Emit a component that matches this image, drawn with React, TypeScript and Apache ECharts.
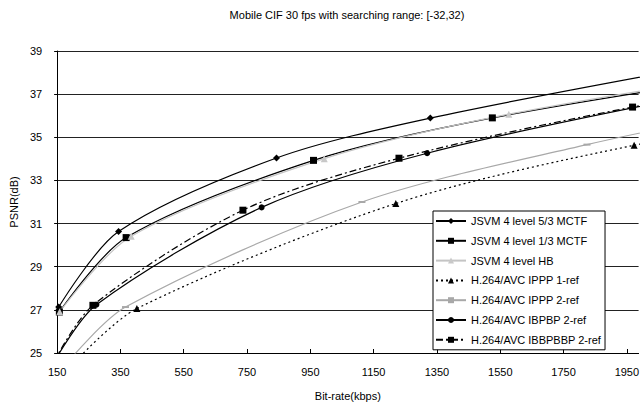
import React, { useEffect, useRef } from "react";
import * as echarts from "echarts";

const titleText = "Mobile CIF 30 fps with searching range: [-32,32)";
const xName = "Bit-rate(kbps)";
const yName = "PSNR(dB)";

const seriesNames = [
  "JSVM 4 level 5/3 MCTF",
  "JSVM 4 level 1/3 MCTF",
  "JSVM 4 level HB",
  "H.264/AVC IPPP 1-ref",
  "H.264/AVC IPPP 2-ref",
  "H.264/AVC IBPBP 2-ref",
  "H.264/AVC IBBPBBP 2-ref",
];

const mctf53Rate = [155, 344, 843, 1329, 2200];
const mctf53Psnr = [27.13, 30.63, 34.04, 35.89, 38.35];

const mctf13Rate = [157, 368, 960, 1525, 2400];
const mctf13Psnr = [26.9, 30.35, 33.93, 35.9, 38.0];

const hbRate = [158, 384, 994, 1577, 2400];
const hbPsnr = [26.91, 30.41, 34.01, 36.07, 38.1];

const ippp1Rate = [200, 402, 1220, 1973, 2600];
const ippp1Psnr = [24.5, 27.06, 31.93, 34.63, 36.1];

const ippp2Rate = [185, 366, 1113, 1824, 2400];
const ippp2Psnr = [24.6, 27.13, 32.0, 34.66, 36.4];

const ibpbpRate = [145, 274, 796, 1319, 2100];
const ibpbpPsnr = [24.7, 27.24, 31.75, 34.26, 36.75];

const bbpRate = [140, 263, 737, 1230, 1968, 2500];
const bbpPsnr = [24.6, 27.21, 31.62, 34.03, 36.4, 37.6];

const pair = (r: number[], p: number[]) => r.map((v, i) => [v, p[i]]);

const FONT = "'Liberation Sans', Arial, sans-serif";

export default function App() {
  const ref = useRef<HTMLDivElement>(null);
  useEffect(() => {
    if (!ref.current) return;
    const chart = echarts.init(ref.current, undefined, { renderer: "svg" });
    const base = {
      type: "line",
      smooth: 0.3,
      clip: true,
      showAllSymbol: true,
    };
    chart.setOption({
      animation: false,
      backgroundColor: "#fff",
      textStyle: { fontFamily: FONT },
      graphic: [
        {
          type: "text",
          x: 347,
          y: 15,
          style: {
            text: titleText,
            fill: "#000",
            font: `11px ${FONT}`,
            textAlign: "center",
            textVerticalAlign: "middle",
          },
        },
      ],
      grid: { left: 52, right: 0, top: 51, bottom: 53, containLabel: false },
      legend: {
        orient: "vertical",
        left: 433,
        top: 211,
        padding: [4, 4, 4, 2],
        itemWidth: 30,
        itemHeight: 7.5,
        itemGap: 7.8,
        backgroundColor: "#fff",
        borderColor: "#000",
        borderWidth: 1,
        borderRadius: 0,
        textStyle: { fontFamily: FONT, fontSize: 11, color: "#000", lineHeight: 12, height: 12 },
        data: seriesNames,
      },
      xAxis: {
        type: "value",
        min: 150,
        max: 1987,
        interval: 200,
        name: xName,
        nameLocation: "middle",
        nameGap: 37,
        nameTextStyle: { fontFamily: FONT, fontSize: 11, color: "#000" },
        axisLine: { show: true, lineStyle: { color: "#000", width: 1 } },
        axisTick: { show: true, inside: true, length: 4, lineStyle: { color: "#000" } },
        axisLabel: {
          fontFamily: FONT,
          fontSize: 11,
          color: "#000",
          margin: 13,
          showMaxLabel: false,
          formatter: (v: number) => String(v),
        },
        splitLine: { show: false },
      },
      yAxis: {
        type: "value",
        min: 25,
        max: 39,
        interval: 2,
        name: yName,
        nameLocation: "middle",
        nameGap: 38,
        nameRotate: 90,
        nameTextStyle: { fontFamily: FONT, fontSize: 11, color: "#000" },
        axisLine: { show: true, lineStyle: { color: "#000", width: 1 } },
        axisTick: { show: true, length: 3, lineStyle: { color: "#000" } },
        axisLabel: { fontFamily: FONT, fontSize: 11, color: "#000", margin: 15, formatter: (v: number) => String(v) },
        splitLine: { show: true, lineStyle: { color: "#222", width: 1 } },
      },
      series: [
        {
          ...base,
          name: seriesNames[0],
          data: pair(mctf53Rate, mctf53Psnr),
          symbol: "diamond",
          symbolSize: 7,
          lineStyle: { color: "#000", width: 1.2 },
          itemStyle: { color: "#000" },
        },
        {
          ...base,
          name: seriesNames[1],
          data: pair(mctf13Rate, mctf13Psnr),
          symbol: "rect",
          symbolSize: 7,
          lineStyle: { color: "#000", width: 1.2 },
          itemStyle: { color: "#000" },
        },
        {
          ...base,
          name: seriesNames[2],
          data: pair(hbRate, hbPsnr),
          symbol: "triangle",
          symbolSize: 7,
          lineStyle: { color: "#c4c4c4", width: 1.2 },
          itemStyle: { color: "#c8c8c8" },
        },
        {
          ...base,
          name: seriesNames[3],
          data: pair(ippp1Rate, ippp1Psnr),
          symbol: "triangle",
          symbolSize: 7,
          lineStyle: { color: "#000", width: 1.2, type: [2, 3] },
          itemStyle: { color: "#000" },
        },
        {
          ...base,
          name: seriesNames[4],
          data: pair(ippp2Rate, ippp2Psnr),
          symbol: "rect",
          symbolSize: [7, 2],
          lineStyle: { color: "#a8a8a8", width: 1.2 },
          itemStyle: { color: "#a8a8a8" },
        },
        {
          ...base,
          name: seriesNames[5],
          data: pair(ibpbpRate, ibpbpPsnr),
          symbol: "circle",
          symbolSize: 6,
          lineStyle: { color: "#000", width: 1.2 },
          itemStyle: { color: "#000" },
        },
        {
          ...base,
          name: seriesNames[6],
          data: pair(bbpRate, bbpPsnr),
          symbol: "rect",
          symbolSize: 7,
          lineStyle: { color: "#000", width: 1.2, type: [7, 3, 2, 3] },
          itemStyle: { color: "#000" },
        },
      ],
    });
    return () => chart.dispose();
  }, []);
  return (
    <div
      ref={ref}
      style={{ position: "fixed", left: 0, top: 0, width: 642, height: 406, background: "#fff" }}
    />
  );
}
